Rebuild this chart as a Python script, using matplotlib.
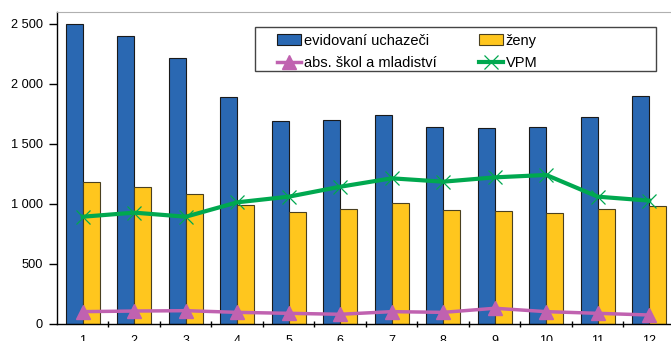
import numpy as np
import matplotlib.pyplot as plt
from matplotlib.patches import Rectangle
from matplotlib.ticker import FuncFormatter, FixedLocator

plt.rcParams['font.family'] = ['Liberation Sans', 'DejaVu Sans']

months = [1, 2, 3, 4, 5, 6, 7, 8, 9, 10, 11, 12]
uchazeci = [2500, 2400, 2220, 1892, 1694, 1700, 1739, 1644, 1636, 1639, 1722, 1897]
zeny = [1183, 1139, 1086, 989, 936, 956, 1008, 953, 939, 922, 956, 983]
absolventi = [103, 108, 111, 97, 89, 81, 103, 97, 131, 103, 89, 75]
vpm = [894, 928, 894, 1014, 1061, 1144, 1214, 1186, 1222, 1242, 1061, 1028]

x = np.array(months)
w = 0.33
W, H = 671, 341

fig = plt.figure(figsize=(6.71, 3.41), dpi=100)
ax = fig.add_axes([57 / W, 17 / H, 618 / W, 312 / H])

ax.bar(x - w / 2, uchazeci, w, color='#2a68b2', edgecolor='#1a1a1a', linewidth=0.8,
       label='evidovaní uchazeči', zorder=2)
ax.bar(x + w / 2, zeny, w, color='#ffc61e', edgecolor='#4a4020', linewidth=0.8,
       label='ženy', zorder=2)
ax.plot(x, absolventi, color='#c062b0', linewidth=2.5, marker='^', markersize=10,
        label='abs. škol a mladiství', zorder=3)
ax.plot(x, vpm, color='#00a84f', linewidth=3, marker='x', markersize=10,
        markeredgewidth=0.9, label='VPM', zorder=3)

ax.set_xlim(0.5, 12.5)
ax.set_ylim(0, 2600)
ax.set_yticks([0, 500, 1000, 1500, 2000, 2500])
ax.yaxis.set_major_formatter(FuncFormatter(lambda v, p: f'{int(v):,}'.replace(',', ' ')))
ax.set_xticks(x)
ax.xaxis.set_minor_locator(FixedLocator(np.arange(1.5, 12.5, 1)))
ax.tick_params(axis='x', which='major', length=0, labelsize=9, pad=8)
ax.tick_params(axis='x', which='minor', length=5, direction='inout', width=1)
ax.tick_params(axis='y', length=6, direction='out', width=1, labelsize=9.2, pad=4)

ax.spines['right'].set_visible(False)
ax.spines['top'].set_color('#b0b0b0')
ax.spines['left'].set_linewidth(1)
ax.spines['bottom'].set_linewidth(1)

# legend frame drawn separately so it spans the same width as in the original
fig.patches.append(Rectangle((255 / W, 1 - 71 / H), 401 / W, 44 / H,
                             transform=fig.transFigure, facecolor='white',
                             edgecolor='#444444', linewidth=1, zorder=5))

handles, labels = ax.get_legend_handles_labels()
order = [2, 0, 3, 1]
leg = fig.legend([handles[i] for i in order], [labels[i] for i in order],
                 ncol=2, loc='upper left', bbox_to_anchor=(270 / W, 1 - 27 / H),
                 frameon=False, fontsize=10.5, handlelength=1.7, handletextpad=0.15,
                 columnspacing=2.9, borderpad=0.45, labelspacing=0.6,
                 borderaxespad=0)
leg.set_zorder(6)

fig.savefig('out.png', dpi=100)
